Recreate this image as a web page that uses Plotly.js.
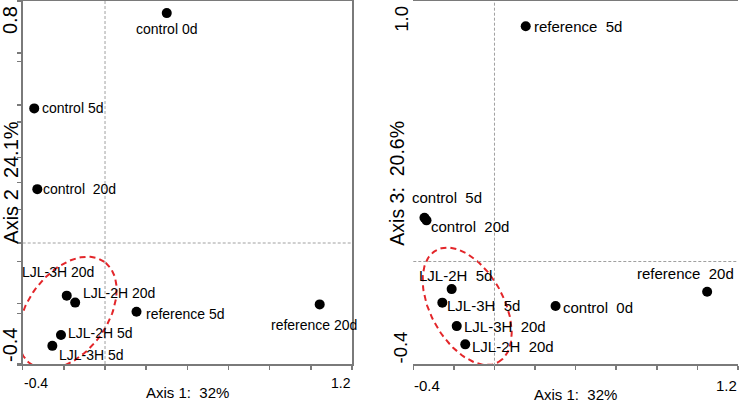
<!DOCTYPE html>
<html>
<head>
<meta charset="utf-8">
<script src="https://cdn.plot.ly/plotly-3.0.1.min.js"></script>
<style>
  html, body { margin: 0; padding: 0; background: #fff; }
  #plot { width: 740px; height: 403px; }
</style>
</head>
<body>
<div id="plot"></div>
<script>
// PCoA ordination, panel A (axis 1 vs axis 2) and panel B (axis 1 vs axis 3)
var labelsA = ["control 0d", "control 5d", "control\u00a0\u00a020d", "LJL-3H 20d", "LJL-2H 20d",
               "reference 5d", "reference 20d", "LJL-2H 5d", "LJL-3H 5d"];
var axis1A = [0.30, -0.344, -0.329, -0.186, -0.145, 0.153, 1.043, -0.214, -0.256];
var axis2A = [0.76, 0.445, 0.178, -0.174, -0.197, -0.227, -0.203, -0.304, -0.340];

var labelsB = ["reference\u00a0\u00a05d", "control\u00a0\u00a05d", "control\u00a0\u00a020d", "LJL-2H\u00a0\u00a05d",
               "LJL-3H\u00a0\u00a05d", "control\u00a0\u00a00d", "LJL-3H\u00a0\u00a020d", "LJL-2H\u00a0\u00a020d",
               "reference\u00a0\u00a020d"];
var axis1B = [0.154, -0.345, -0.335, -0.211, -0.257, 0.301, -0.186, -0.144, 1.048];
var axis3B = [0.903, 0.168, 0.158, -0.106, -0.158, -0.171, -0.248, -0.318, -0.116];

var tickStepVals = [-0.4, -0.2, 0, 0.2, 0.4, 0.6, 0.8, 1.0, 1.2];
var xRange = [-0.4, 1.2];
var yRangeA = [-0.4, 0.8];
var yRangeB = [-0.4, 1.0];

// label placement: [anchor, xshift px, yshift px]
var placeA = [["center", 0, -16], ["left", 7, 0], ["left", 5, 0], ["center", -9, 24], ["left", 7, 10],
              ["left", 8, -2], ["center", -6, -21], ["left", 6, 2], ["left", 6, -9]];
var placeB = [["left", 7, 0], ["left", -13, 20], ["left", 4, -6], ["center", 4, 14], ["left", 4, -3],
              ["left", 6, -1], ["left", 6, 0], ["left", 6, -2], ["center", -22, 18]];

// plot area in pixels
var W = 740, H = 403;
var boxA = { l: 22.7, r: 352, t: 1, b: 364 };
var boxB = { l: 413.3, r: 738, t: 1, b: 365.7 };

function pxPerUnit(box, xr, yr) {
  return { x: (box.r - box.l) / (xr[1] - xr[0]), y: (box.b - box.t) / (yr[1] - yr[0]) };
}

// dashed group ellipse: centre in data units, semi-axes in pixels
function ellipse(cx, cy, a, b, deg, ppu) {
  var xs = [], ys = [], t = deg * Math.PI / 180;
  for (var i = 0; i <= 120; i++) {
    var u = 2 * Math.PI * i / 120;
    var dx = a * Math.cos(u) * Math.cos(t) - b * Math.sin(u) * Math.sin(t);
    var dy = a * Math.cos(u) * Math.sin(t) + b * Math.sin(u) * Math.cos(t);
    xs.push(cx + dx / ppu.x);
    ys.push(cy + dy / ppu.y);
  }
  return { x: xs, y: ys };
}

var ppuA = pxPerUnit(boxA, xRange, yRangeA);
var ppuB = pxPerUnit(boxB, xRange, yRangeB);
var ellA = ellipse(-0.1825, -0.231, 63, 40, 54, ppuA);
var ellB = ellipse(-0.1345, -0.172, 64, 36.5, -61, ppuB);

var font = '"Liberation Sans", Arial, sans-serif';
var red = '#e3262a';

var traces = [
  {
    x: ellA.x, y: ellA.y, xaxis: 'x', yaxis: 'y', mode: 'lines',
    line: { color: red, width: 2, dash: '6px,4px' }, hoverinfo: 'skip'
  },
  {
    x: ellB.x, y: ellB.y, xaxis: 'x2', yaxis: 'y2', mode: 'lines',
    line: { color: red, width: 2, dash: '6px,4px' }, hoverinfo: 'skip'
  },
  {
    x: axis1A, y: axis2A, xaxis: 'x', yaxis: 'y', mode: 'markers',
    marker: { color: '#000', size: 10 }, cliponaxis: false
  },
  {
    x: axis1B, y: axis3B, xaxis: 'x2', yaxis: 'y2', mode: 'markers',
    marker: { color: '#000', size: 10 }, cliponaxis: false
  }
];

function axis(range, domain) {
  return {
    range: range, domain: domain, tickvals: tickStepVals, showticklabels: false,
    ticks: 'outside', ticklen: 4, tickwidth: 1.5, tickcolor: '#7a7a7a',
    showline: true, mirror: true, linecolor: '#7a7a7a', linewidth: 2,
    showgrid: false, zeroline: false, fixedrange: true
  };
}

var layout = {
  width: W, height: H,
  margin: { l: 0, r: 0, t: 0, b: 0 },
  paper_bgcolor: '#fff', plot_bgcolor: '#fff',
  showlegend: false,
  xaxis: axis(xRange, [boxA.l / W, boxA.r / W]),
  yaxis: axis(yRangeA, [1 - boxA.b / H, 1 - boxA.t / H]),
  xaxis2: axis(xRange, [boxB.l / W, boxB.r / W]),
  yaxis2: axis(yRangeB, [1 - boxB.b / H, 1 - boxB.t / H]),
  shapes: [
    { type: 'line', xref: 'x', yref: 'y domain', x0: 0, x1: 0, y0: 0, y1: 1,
      line: { color: '#a0a0a0', width: 1, dash: '3px,2px' } },
    { type: 'line', xref: 'x domain', yref: 'y', x0: 0, x1: 1, y0: 0, y1: 0,
      line: { color: '#a0a0a0', width: 1, dash: '3px,2px' } },
    { type: 'line', xref: 'x2', yref: 'y2 domain', x0: 0, x1: 0, y0: 0, y1: 1,
      line: { color: '#a0a0a0', width: 1, dash: '3px,2px' } },
    { type: 'line', xref: 'x2 domain', yref: 'y2', x0: 0, x1: 1, y0: 0, y1: 0,
      line: { color: '#a0a0a0', width: 1, dash: '3px,2px' } }
  ],
  annotations: []
};

function ann(o, size) {
  var base = { showarrow: false, font: { family: font, size: size, color: '#000' }, borderpad: 0 };
  for (var k in o) base[k] = o[k];
  layout.annotations.push(base);
}

// point labels
function pointLabels(xs, ys, texts, place, xa, ya, size) {
  for (var i = 0; i < xs.length; i++) {
    ann({ xref: xa, yref: ya, x: xs[i], y: ys[i], text: texts[i],
          xanchor: place[i][0], yanchor: 'middle', xshift: place[i][1], yshift: place[i][2] }, size);
  }
}
pointLabels(axis1A, axis2A, labelsA, placeA, 'x', 'y', 14);
pointLabels(axis1B, axis3B, labelsB, placeB, 'x2', 'y2', 15);

// end tick labels and axis titles
[['x', 'y', yRangeA, 'Axis 2\u00a0\u00a024.1%', 20, 20, 14, -12.5, -12.7],
 ['x2', 'y2', yRangeB, 'Axis 3:\u00a0\u00a020.6%', 19.5, 18.5, 15, -16, -12.5]]
  .forEach(function (p) {
    var xa = p[0], ya = p[1], yr = p[2];
    ann({ xref: xa + ' domain', yref: ya, x: 0, y: xRange[0], text: String(xRange[0]),
          xanchor: 'left', yanchor: 'top', yshift: -10 }, p[6]);
    ann({ xref: xa + ' domain', yref: ya + ' domain', x: 1, y: 0, text: xRange[1].toFixed(1),
          xanchor: 'right', yanchor: 'top', yshift: -10 }, p[6]);
    ann({ xref: xa + ' domain', yref: ya + ' domain', x: 0.5, y: 0, text: 'Axis 1:\u00a0\u00a032%',
          xanchor: 'center', yanchor: 'top', yshift: -19 }, 15);
    ann({ xref: xa + ' domain', yref: ya, x: 0, y: yr[0], text: String(yr[0]), textangle: -90,
          xanchor: 'center', yanchor: 'bottom', xshift: p[8], yshift: 1 }, p[5]);
    ann({ xref: xa + ' domain', yref: ya, x: 0, y: yr[1], text: yr[1].toFixed(1), textangle: -90,
          xanchor: 'center', yanchor: 'top', xshift: p[8], yshift: -4 }, p[5]);
    ann({ xref: xa + ' domain', yref: ya + ' domain', x: 0, y: 0.5, text: p[3], textangle: -90,
          xanchor: 'center', yanchor: 'middle', xshift: p[7] }, p[4]);
  });

Plotly.newPlot('plot', traces, layout, { displayModeBar: false, staticPlot: true });
</script>
</body>
</html>
